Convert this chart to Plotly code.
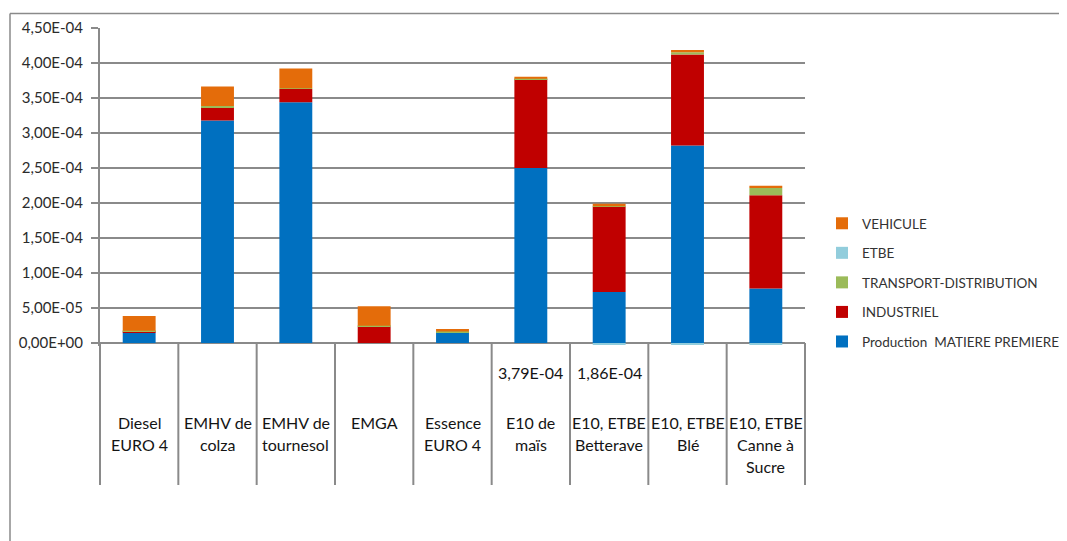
import plotly.graph_objects as go

# ---------------- data ----------------
categories = ["Diesel EURO 4", "EMHV de colza", "EMHV de tournesol", "EMGA",
              "Essence EURO 4", "E10 de maïs", "E10, ETBE Betterave",
              "E10, ETBE Blé", "E10, ETBE Canne à Sucre"]
category_lines = [["Diesel", "EURO 4"], ["EMHV de", "colza"], ["EMHV de", "tournesol"],
                  ["EMGA"], ["Essence", "EURO 4"], ["E10 de", "maïs"],
                  ["E10, ETBE", "Betterave"], ["E10, ETBE", "Blé"],
                  ["E10, ETBE", "Canne à", "Sucre"]]
value_labels = ["", "", "", "", "", "3,79E-04", "1,86E-04", "", ""]

production = [1.50e-5, 3.18e-4, 3.44e-4, 0.0, 1.50e-5, 2.50e-4, 7.3e-5, 2.82e-4, 7.8e-5]
industriel = [1.5e-6, 1.9e-5, 1.9e-5, 2.4e-5, 5e-7, 1.27e-4, 1.22e-4, 1.30e-4, 1.33e-4]
transport = [1.0e-6, 1.5e-6, 1.0e-6, 5e-7, 1.0e-6, 5e-7, 5e-7, 3.3e-6, 1.04e-5]
etbe = [0.0, 0.0, 0.0, 0.0, 0.0, 0.0, -3e-6, -3e-6, -3e-6]
vehicule = [2.1e-5, 2.8e-5, 2.8e-5, 2.8e-5, 3.5e-6, 3.0e-6, 3.3e-6, 3.4e-6, 3.4e-6]

series_names = ["Production  MATIERE PREMIERE", "INDUSTRIEL", "TRANSPORT-DISTRIBUTION",
                "ETBE", "VEHICULE"]
series_values = [production, industriel, transport, etbe, vehicule]
series_colors = ["#0070C0", "#C00000", "#9BBB59", "#92CDDC", "#E46C0A"]
legend_ranks = [5, 4, 3, 2, 1]

y_ticks = [0.0, 5e-5, 1e-4, 1.5e-4, 2e-4, 2.5e-4, 3e-4, 3.5e-4, 4e-4, 4.5e-4]
y_ticktext = [f"{v:.2E}".replace(".", ",") for v in y_ticks]

# ---------------- layout constants ----------------
OFF = 8                      # default page body margin
W, H = 1067 - OFF, 541 - OFF
# target page-pixel positions of the plot area
P_LEFT, P_RIGHT, P_TOP, P_BOT = 100, 805, 28, 346
ML, MR = P_LEFT - OFF, W - (P_RIGHT - OFF)
MT, MB = P_TOP - OFF, H - (P_BOT - OFF)
PLOT_H = P_BOT - P_TOP
PLOT_W = P_RIGHT - P_LEFT
Y_MAX = 4.5e-4
Y_MIN = Y_MAX - PLOT_H / 70.0 * 1e-4   # 70 px per 1E-4
GRAY = "#8A8A8A"
FONT = "Lato"


def py(px):
    """page pixel y -> paper y"""
    return (P_BOT - px) / PLOT_H


def pxx(px):
    """page pixel x -> paper x"""
    return (px - P_LEFT) / PLOT_W


fig = go.Figure()
for name, vals, col, rk in zip(series_names, series_values, series_colors, legend_ranks):
    fig.add_trace(go.Bar(x=categories, y=vals, name=name, legendgroup=name,
                         legendrank=rk,
                         marker=dict(color=col, line=dict(width=0))))

n = len(categories)
shapes = []
for k in range(n + 1):
    shapes.append(dict(type="line", xref="paper", yref="paper",
                       x0=k / n, x1=k / n, y0=py(485), y1=py(343),
                       line=dict(color=GRAY, width=2)))
shapes.append(dict(type="line", xref="paper", yref="paper",
                   x0=pxx(10), x1=pxx(1075), y0=py(13.5), y1=py(13.5),
                   line=dict(color=GRAY, width=1.5)))
shapes.append(dict(type="line", xref="paper", yref="paper",
                   x0=pxx(10), x1=pxx(10), y0=py(13.5), y1=py(560),
                   line=dict(color=GRAY, width=1.5)))

annotations = []
for k, (lines, vl) in enumerate(zip(category_lines, value_labels)):
    xc = (k + 0.5) / n
    for j, ln in enumerate(lines):
        annotations.append(dict(xref="paper", yref="paper", x=xc, y=py(422 + 22 * j),
                                text=ln, showarrow=False, xanchor="center",
                                yanchor="middle",
                                font=dict(family=FONT, size=16, color="#141414")))
    if vl:
        annotations.append(dict(xref="paper", yref="paper", x=xc, y=py(372),
                                text=vl, showarrow=False, xanchor="center",
                                yanchor="middle",
                                font=dict(family=FONT, size=16, color="#141414")))

fig.update_layout(
    width=W, height=H,
    margin=dict(l=ML, r=MR, t=MT, b=MB, autoexpand=False),
    paper_bgcolor="white", plot_bgcolor="white",
    barmode="relative", bargap=0.58,
    font=dict(family=FONT, color="#404040"),
    showlegend=True,
    legend=dict(traceorder="grouped", tracegroupgap=9,
                x=pxx(822), xanchor="left", y=py(208), yanchor="top",
                font=dict(family=FONT, size=13.5, color="#333333"),
                bgcolor="rgba(0,0,0,0)"),
    xaxis=dict(showticklabels=False, ticks="", showgrid=False, zeroline=False,
               showline=False, range=[-0.5, n - 0.5], fixedrange=True),
    yaxis=dict(range=[Y_MIN, Y_MAX], tickvals=y_ticks, ticktext=y_ticktext,
               showgrid=True, gridcolor=GRAY, gridwidth=2,
               zeroline=True, zerolinecolor=GRAY, zerolinewidth=2,
               showline=True, linecolor=GRAY, linewidth=2,
               ticks="outside", ticklen=7, tickcolor=GRAY, tickwidth=2,
               ticklabelstandoff=5,
               tickfont=dict(family=FONT, size=15, color="#2b2b2b")),
    shapes=shapes,
    annotations=annotations,
)

fig.write_html("out.html")
